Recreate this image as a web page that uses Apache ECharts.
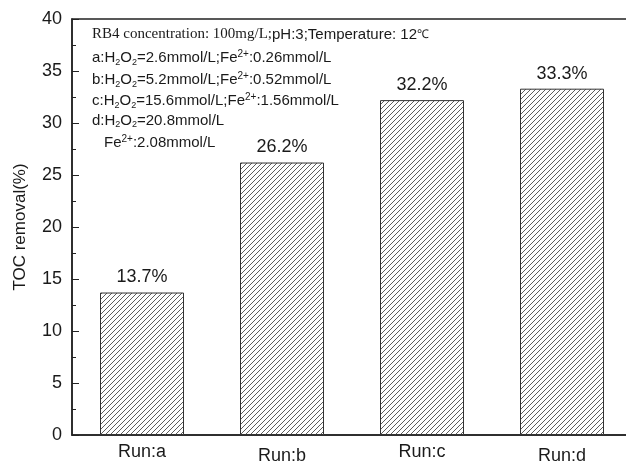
<!DOCTYPE html>
<html>
<head>
<meta charset="utf-8">
<script src="https://cdn.jsdelivr.net/npm/echarts@6/dist/echarts.min.js"></script>
<style>html,body{margin:0;padding:0;background:#fff}#c{width:626px;height:465px}</style>
</head>
<body>
<div id="c"></div>
<script>
const categories = ['Run:a', 'Run:b', 'Run:c', 'Run:d'];
const tocRemoval = [13.7, 26.2, 32.2, 33.3];
const yTicks = [0, 5, 10, 15, 20, 25, 30, 35, 40];

const notes = [
  '{serif|RB4 concentration: 100mg/L;}{n|pH:3;Temperature: 12}{sm|℃}',
  '{n|a:H}{sub|2}{n|O}{sub|2}{n|=2.6mmol/L;Fe}{sup|2+}{n|:0.26mmol/L}',
  '{n|b:H}{sub|2}{n|O}{sub|2}{n|=5.2mmol/L;Fe}{sup|2+}{n|:0.52mmol/L}',
  '{n|c:H}{sub|2}{n|O}{sub|2}{n|=15.6mmol/L;Fe}{sup|2+}{n|:1.56mmol/L}',
  '{n|d:H}{sub|2}{n|O}{sub|2}{n|=20.8mmol/L}',
  '{n|Fe}{sup|2+}{n|:2.08mmol/L}'
];

function hatch() {
  const s = 5;
  const c = document.createElement('canvas');
  c.width = s; c.height = s;
  const g = c.getContext('2d');
  g.fillStyle = '#fff';
  g.fillRect(0, 0, s, s);
  g.strokeStyle = '#333';
  g.lineWidth = 0.8;
  g.beginPath();
  g.moveTo(0, s); g.lineTo(s, 0);
  g.moveTo(-1, 1); g.lineTo(1, -1);
  g.moveTo(s - 1, s + 1); g.lineTo(s + 1, s - 1);
  g.stroke();
  return c;
}

const txt = '#1a1a1a';
const rich = {
  serif: { fontFamily: 'Liberation Serif', fontSize: 15, color: txt, lineHeight: 18 },
  n: { fontFamily: 'Liberation Sans', fontSize: 15, color: txt, lineHeight: 18 },
  sm: { fontFamily: 'Liberation Sans', fontSize: 12, color: txt, lineHeight: 18 },
  sub: { fontFamily: 'Liberation Sans', fontSize: 9, color: txt, lineHeight: 14, verticalAlign: 'bottom' },
  sup: { fontFamily: 'Liberation Sans', fontSize: 10, color: txt, lineHeight: 9, verticalAlign: 'top' }
};
const noteY = [36, 58, 80, 101, 122, 143];
const noteX = [92, 92, 92, 92, 92, 104];

const chart = echarts.init(document.getElementById('c'), null, { renderer: 'canvas' });
chart.setOption({
  backgroundColor: '#fff',
  animation: false,
  grid: {
    left: 72, top: 19, width: 560, bottom: 30,
    outerBoundsMode: 'none', containLabel: false,
    show: true, borderColor: '#222', borderWidth: 1.5
  },
  xAxis: [{
    type: 'category',
    data: categories,
    position: 'bottom',
    axisLine: { lineStyle: { color: '#222', width: 1.5 } },
    axisTick: { inside: true, alignWithLabel: true, length: 6, lineStyle: { color: '#222' } },
    axisLabel: {
      margin: 8,
      formatter: (v, i) => (i % 2 ? '{lo|' + v + '}' : '{hi|' + v + '}'),
      rich: {
        hi: { fontFamily: 'Liberation Sans', fontSize: 18, color: txt, lineHeight: 18 },
        lo: { fontFamily: 'Liberation Sans', fontSize: 18, color: txt, lineHeight: 26 }
      }
    }
  }, {
    type: 'category',
    data: categories,
    position: 'bottom',
    axisLine: { show: false },
    axisTick: { inside: true, length: 4, lineStyle: { color: '#222' } },
    axisLabel: { show: false }
  }],
  yAxis: {
    type: 'value',
    min: yTicks[0],
    max: yTicks[yTicks.length - 1],
    interval: 5,
    name: 'TOC removal(%)',
    nameLocation: 'middle',
    nameGap: 43,
    nameTextStyle: { fontFamily: 'Liberation Sans', fontSize: 17, color: txt },
    axisLine: { show: true, lineStyle: { color: '#222', width: 1.5 } },
    axisTick: { show: true, inside: true, length: 7, lineStyle: { color: '#222' } },
    minorTick: { show: true, splitNumber: 2, length: 4, lineStyle: { color: '#222' } },
    splitLine: { show: false },
    axisLabel: { fontFamily: 'Liberation Sans', fontSize: 18, color: txt, margin: 10 }
  },
  series: [{
    type: 'bar',
    xAxisIndex: 0,
    data: tocRemoval,
    barWidth: '60%',
    itemStyle: { color: { image: hatch(), repeat: 'repeat' }, borderColor: '#333', borderWidth: 1 },
    label: {
      show: true, position: 'top', distance: 6, formatter: '{c}%',
      fontFamily: 'Liberation Sans', fontSize: 18, color: txt
    }
  }],
  graphic: notes.map((t, i) => ({
    type: 'text',
    left: noteX[i],
    top: noteY[i] - 9,
    style: { text: t, rich: rich, fill: txt }
  }))
});
</script>
</body>
</html>
